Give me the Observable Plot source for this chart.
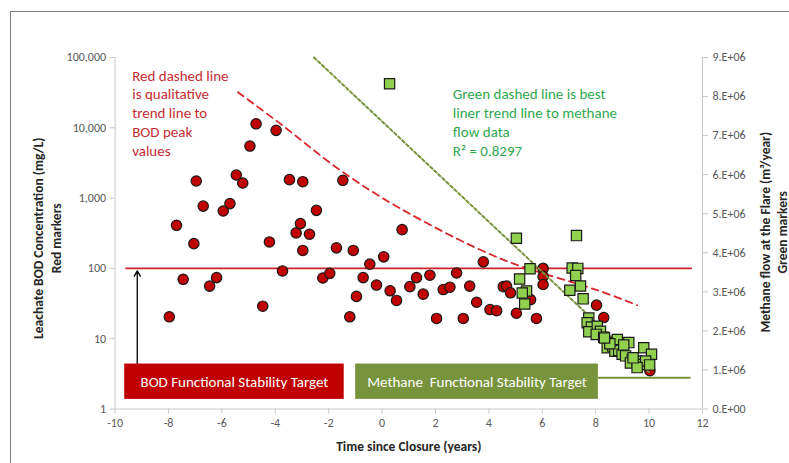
<!DOCTYPE html>
<html><head><meta charset="utf-8">
<script src="https://cdn.jsdelivr.net/npm/d3@7"></script>
<script src="https://cdn.jsdelivr.net/npm/@observablehq/plot@0.6"></script>
<style>
body{margin:0;background:#fff;}
#wrap{position:relative;width:789px;height:463px;overflow:hidden;background:#fff;}
#frame{position:absolute;left:10px;top:11px;width:820px;height:520px;border:1px solid #7f7f7f;}
#wrap svg{position:absolute;left:0;top:0;}
</style></head><body><div id="wrap"><div id="frame"></div></div>
<script>
// Leachate BOD (red markers)
const bodTime = [-7.97,-7.70,-7.45,-7.05,-6.96,-6.70,-6.46,-6.20,-5.95,-5.70,-5.46,-5.22,-4.95,-4.72,-4.47,-4.22,-3.97,-3.73,-3.47,-3.22,-3.06,-2.97,-2.97,-2.72,-2.46,-2.22,-1.96,-1.71,-1.47,-1.21,-1.08,-0.96,-0.71,-0.46,-0.21,0.06,0.30,0.54,0.75,1.04,1.29,1.54,1.79,2.04,2.29,2.54,2.79,3.04,3.28,3.54,3.79,4.04,4.29,4.54,4.66,4.81,5.03,5.56,5.78,6.03,6.03,6.03,8.03,8.30,10.03];
const bodValue = [20.5,410,70,225,1750,770,56,74,655,835,2130,1640,5500,11400,29,238,9200,92,1830,320,434,1710,180,306,670,73,85,196,1790,20.5,180,40,74,115,58,146,48,35,356,55,74,43,80,19.4,50,54,86,19.4,56,33,124,26,25,55,56,45,23,36,19.4,100,77,59,30,20,3.5];
// Methane flow at the flare (green markers)
const methaneTime = [0.28,5.03,7.28,5.54,5.15,5.41,5.25,5.34,7.12,7.33,7.25,7.43,7.03,7.53,7.74,7.68,7.84,7.74,8.06,8.18,8.02,8.30,8.49,8.43,8.64,8.81,8.72,8.86,8.99,9.24,9.12,9.37,9.30,9.55,9.68,9.80,10.09,9.87,10.02,9.55,9.05,8.53,9.40,8.33];
const methaneFlow = [8.33e6,4.37e6,4.44e6,3.59e6,3.33e6,3.02e6,2.97e6,2.69e6,3.61e6,3.60e6,3.42e6,3.15e6,3.04e6,2.82e6,2.33e6,2.21e6,2.10e6,1.98e6,2.12e6,1.99e6,1.91e6,1.84e6,1.70e6,1.57e6,1.61e6,1.78e6,1.48e6,1.50e6,1.40e6,1.70e6,1.36e6,1.27e6,1.18e6,1.23e6,1.14e6,1.57e6,1.40e6,1.23e6,1.13e6,1.06e6,1.64e6,1.67e6,1.31e6,1.82e6];
// Qualitative BOD peak trend (red dashed)
const bodTrendTime = [-5.40,-3.81,-1.56,0.69,4.43,8.06,9.55];
const bodTrendValue = [32100,11400,2480,709,138,49,30];
// Linear best fit to methane (green dashed)
const methaneFitTime = [-2.55,10.0];
const methaneFitFlow = [9.0e6,0.94e6];
// Targets
const bodTarget = 100;
const methaneTarget = 0.8e6;
// Axis ticks
const xTicks = [-10,-8,-6,-4,-2,0,2,4,6,8,10,12];
const leftTicks = [1,10,100,1000,10000,100000];
const leftTickLabels = ["1","10","100","1,000","10,000","100,000"];
const rightTicks = [0,1e6,2e6,3e6,4e6,5e6,6e6,7e6,8e6,9e6];
const rightTickLabels = ["0.E+00","1.E+06","2.E+06","3.E+06","4.E+06","5.E+06","6.E+06","7.E+06","8.E+06","9.E+06"];
// Target boxes (annotation)
const boxLabels = ["BOD Functional Stability Target","Methane  Functional Stability Target"];
const boxStart = [-9.64,-0.99];
const boxEnd = [-1.42,8.10];
const boxColors = ["#c00000","#77933c"];

const W = 789, H = 463;
const M = {marginTop:57, marginRight:87, marginBottom:54.5, marginLeft:114.6};
const font = "Carlito, Lato, 'Open Sans', sans-serif";

const bod = bodTime.map((t,i)=>({t, v:bodValue[i]}));
const methane = methaneTime.map((t,i)=>({t, m:methaneFlow[i]}));
const bodTrend = bodTrendTime.map((t,i)=>({t, v:bodTrendValue[i]}));
const methaneFit = methaneFitTime.map((t,i)=>({t, m:methaneFitFlow[i]}));
const boxes = boxLabels.map((label,i)=>({label, x1:boxStart[i], x2:boxEnd[i], color:boxColors[i]}));

const p1 = Plot.plot({
  width:W, height:H, ...M,
  x:{domain:[-10,12]},
  y:{type:"log", domain:[1,1e5]},
  style:{fontFamily:font, fontSize:"12px", color:"#595959", background:"transparent", overflow:"visible"},
  marks:[
    Plot.ruleX([-10],{stroke:"#c8c8c8"}),
    Plot.ruleY([1],{stroke:"#c8c8c8"}),
    Plot.axisY({ticks:leftTicks, tickFormat:d=>leftTickLabels[leftTicks.indexOf(d)], tickSize:5, tickPadding:4, stroke:"#c8c8c8", fill:"#595959", label:null}),
    Plot.axisX({ticks:xTicks, tickFormat:d=>String(d), tickSize:5, tickPadding:4, stroke:"#c8c8c8", fill:"#595959", label:null}),
    Plot.ruleY([bodTarget],{x1:-9.6, x2:11.62, stroke:"#cc2229", strokeWidth:1.8}),
    Plot.line(bodTrend,{x:"t", y:"v", curve:"catmull-rom", stroke:"#d9262c", strokeWidth:1.8, strokeDasharray:"7,5"}),
    Plot.dot(bod,{x:"t", y:"v", r:5.2, fill:"#c00000", stroke:"#1a1a1a", strokeWidth:1.2}),
    Plot.arrow([{x:-9.17, y1:3.4, y2:92}],{x1:"x", x2:"x", y1:"y1", y2:"y2", stroke:"#000", strokeWidth:1.3, headLength:7}),
    Plot.rect(boxes,{x1:"x1", x2:"x2", y1:1.37, y2:4.36, fill:"color"}),
    Plot.text(boxes,{x:d=>(d.x1+d.x2)/2, y:2.4, text:"label", fill:"white", fontSize:15}),
    Plot.text(["Red dashed line\nis qualitative\ntrend line to\nBOD peak\nvalues"],{x:-9.36, y:16700, textAnchor:"start", lineAnchor:"middle", lineHeight:1.25, fill:"#c52b33", fontSize:15}),
    Plot.text(["Leachate BOD Concentration (mg/L)\nRed markers"],{frameAnchor:"left", rotate:-90, dx:-68.6, dy:5, textAnchor:"middle", lineAnchor:"middle", lineHeight:1.33, fontWeight:"bold", fontSize:13.5, fill:"#262626"}),
    Plot.text(["Time since Closure (years)"],{frameAnchor:"bottom", dy:38, textAnchor:"middle", lineAnchor:"middle", fontWeight:"bold", fontSize:13.5, fill:"#262626"})
  ]
});

const p2 = Plot.plot({
  width:W, height:H, ...M,
  x:{domain:[-10,12], axis:null},
  y:{domain:[0,9e6]},
  style:{fontFamily:font, fontSize:"12px", color:"#595959", background:"transparent", overflow:"visible"},
  marks:[
    Plot.ruleX([12],{stroke:"#c8c8c8"}),
    Plot.axisY({anchor:"right", ticks:rightTicks, tickFormat:d=>rightTickLabels[rightTicks.indexOf(d)], tickSize:5, tickPadding:5, stroke:"#c8c8c8", fill:"#595959", label:null}),
    Plot.line(methaneFit,{x:"t", y:"m", stroke:"#77933c", strokeWidth:2, strokeDasharray:"3,2.5"}),
    Plot.ruleY([methaneTarget],{x1:8.1, x2:11.57, stroke:"#77933c", strokeWidth:1.8}),
    Plot.dot(methane,{x:"t", y:"m", symbol:"square", r:5.8, fill:"#92d050", stroke:"#1a1a1a", strokeWidth:1.2}),
    Plot.text(["Green dashed line is best\nliner trend line to methane\nflow data\nR² = 0.8297"],{x:2.65, y:7.36e6, textAnchor:"start", lineAnchor:"middle", lineHeight:1.28, fill:"#30a84f", fontSize:15}),
    Plot.text(["Methane flow at the Flare (m³/year)\nGreen markers"],{frameAnchor:"right", rotate:-90, dx:71, dy:-1, textAnchor:"middle", lineAnchor:"middle", lineHeight:1.25, fontWeight:"bold", fontSize:13.5, fill:"#262626"})
  ]
});

const wrap = document.getElementById("wrap");
wrap.appendChild(p1);
wrap.appendChild(p2);
</script>
</body></html>
